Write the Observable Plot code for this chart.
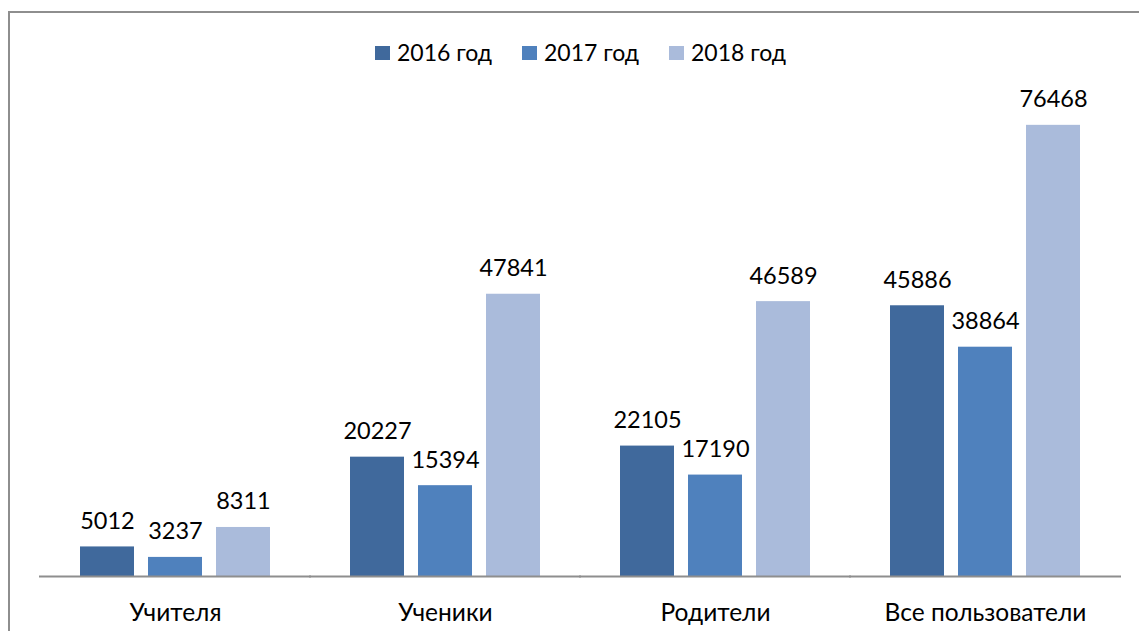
<!DOCTYPE html>
<html><head><meta charset="utf-8">
<script src="https://cdn.jsdelivr.net/npm/d3@7"></script>
<script src="https://cdn.jsdelivr.net/npm/@observablehq/plot@0.6"></script>
<style>
body{margin:0;background:#fff;}
#wrap{position:relative;width:1139px;height:631px;overflow:hidden;background:#fff;font-family:Lato,"Open Sans",sans-serif;}
#frame{position:absolute;left:8px;top:11px;width:1300px;height:800px;border-left:2px solid #8e8e8e;border-top:2px solid #8e8e8e;pointer-events:none;}
#legend{position:absolute;top:38px;left:375px;display:flex;align-items:center;font-size:23px;color:#000;white-space:nowrap;}
#legend .item{display:flex;align-items:center;margin-right:30px;}
#legend .sw{width:15px;height:14px;margin-right:7px;margin-top:2px;}
#chart{position:absolute;left:0;top:0;}
</style>
</head><body>
<div id="wrap">
<div id="chart"></div>
<div id="legend"></div>
<div id="frame"></div>
</div>
<script>
const categories = ["Учителя", "Ученики", "Родители", "Все пользователи"];
const years = ["2016 год", "2017 год", "2018 год"];
const values2016 = [5012, 20227, 22105, 45886];
const values2017 = [3237, 15394, 17190, 38864];
const values2018 = [8311, 47841, 46589, 76468];
const colors = ["#40699c", "#4f81bd", "#aabbdb"];

const series = [values2016, values2017, values2018];
const rows = [];
categories.forEach((c, i) => {
  years.forEach((y, j) => rows.push({category: c, year: y, value: series[j][i]}));
});

const legend = document.getElementById("legend");
years.forEach((y, j) => {
  const it = document.createElement("div");
  it.className = "item";
  const sw = document.createElement("div");
  sw.className = "sw";
  sw.style.background = colors[j];
  const t = document.createElement("span");
  t.textContent = y;
  it.appendChild(sw); it.appendChild(t);
  legend.appendChild(it);
});

const chart = Plot.plot({
  width: 1139,
  height: 631,
  marginLeft: 38,
  marginRight: 18,
  marginTop: 45,
  marginBottom: 55,
  style: {fontFamily: "Lato, 'Open Sans', sans-serif", fontSize: "23px", color: "#000", background: "transparent"},
  fx: {domain: categories, paddingInner: 0.298, paddingOuter: 0.149, label: null},
  x: {domain: years, paddingInner: 0.206, paddingOuter: 0, axis: null},
  y: {domain: [0, 90000], axis: null},
  color: {domain: years, range: colors},
  marks: [
    Plot.barY(rows, {fx: "category", x: "year", y: "value", fill: "year"}),
    Plot.text(rows, {fx: "category", x: "year", y: "value", text: d => String(d.value), lineAnchor: "bottom", dy: -18, fill: "#000", fontSize: 23.5}),
    Plot.ruleY([0], {stroke: "#8e8e8e", strokeWidth: 2, insetLeft: -41, insetRight: -41}),
    Plot.axisFx({anchor: "bottom", tickSize: 0, tickPadding: 27, label: null, fill: "#000", fontSize: 24.5})
  ]
});
document.getElementById("chart").appendChild(chart);
</script>
</body></html>
